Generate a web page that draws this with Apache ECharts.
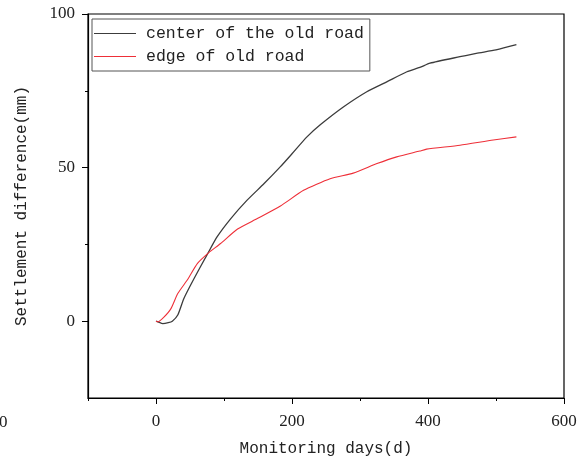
<!DOCTYPE html>
<html lang="en">
<head>
    <meta charset="UTF-8">
    <title>Settlement difference</title>
    <script src="https://cdn.jsdelivr.net/npm/echarts@6/dist/echarts.min.js"></script>
    <style>
        html, body { margin: 0; padding: 0; background: #fff; }
        #main { width: 582px; height: 458px; }
    </style>
</head>
<body>
    <div id="main"></div>
    <script>
        // data
        var centerDays = [0, 3, 10, 18, 24, 32, 41, 56, 76, 90, 110, 134, 159, 183, 200, 222, 242, 276, 310, 340, 369, 388, 403, 447, 471, 500, 530];
        var centerVals = [0, -0.2, -0.8, -0.5, 0, 2, 7.4, 13.9, 22, 27.5, 33.4, 39.4, 44.8, 50.3, 54.5, 60.0, 64.0, 69.8, 74.7, 78, 81.2, 82.6, 84, 86.1, 87.2, 88.3, 90];
        var edgeDays = [0, 3, 12, 22, 32, 46, 61, 76, 95, 120, 149, 183, 217, 256, 290, 325, 354, 388, 398, 447, 496, 530];
        var edgeVals = [0, -0.2, 1.4, 4.1, 9, 13.4, 18.8, 22, 25.3, 30, 33.4, 37.5, 42.6, 46.4, 48.2, 51.3, 53.5, 55.4, 56, 57.3, 59, 60];
        var xMajor = [0, 200, 400, 600];
        var xMinor = [-100, 100, 300, 500];
        var yMajor = [0, 50, 100];
        var yMinor = [25, 75];

        function pairs(xs, ys) {
            return xs.map(function (x, i) { return [x, ys[i]]; });
        }

        var monoFont = '"Liberation Mono", "DejaVu Sans Mono", monospace';
        var serifFont = '"Liberation Serif", "DejaVu Serif", serif';

        var myChart = echarts.init(document.getElementById('main'));

        var option = {
            animation: false,
            grid: {
                left: 88, right: 18, top: 14, bottom: 60,
                outerBoundsMode: 'none',
                show: true, borderColor: '#000', borderWidth: 1.2
            },
            legend: {
                orient: 'vertical',
                left: 92, top: 19,
                padding: [6, 6, 6, 2],
                itemGap: 6,
                itemWidth: 42,
                itemHeight: 1.2,
                icon: 'rect',
                borderColor: '#555',
                borderWidth: 1,
                textStyle: { fontFamily: monoFont, fontSize: 16.5, color: '#222', lineHeight: 16, padding: [0, 0, 0, 5] },
                data: ['center of the old road', 'edge of old road']
            },
            xAxis: [
                {
                    type: 'value', min: -100, max: 600, position: 'bottom',
                    name: 'Monitoring days(d)', nameLocation: 'middle', nameGap: 43,
                    nameTextStyle: { fontFamily: monoFont, fontSize: 16, color: '#222' },
                    splitLine: { show: false },
                    axisLine: { onZero: false, lineStyle: { color: '#000', width: 1.2 } },
                    axisTick: { inside: false, length: 6, customValues: xMajor, lineStyle: { color: '#000' } },
                    axisLabel: { customValues: xMajor, margin: 15, fontFamily: serifFont, fontSize: 17, color: '#222' }
                },
                {
                    type: 'value', min: -100, max: 600, position: 'bottom',
                    splitLine: { show: false },
                    axisLine: { show: false, onZero: false },
                    axisTick: { inside: false, length: 3, customValues: xMinor, lineStyle: { color: '#000' } },
                    axisLabel: { show: false }
                }
            ],
            yAxis: [
                {
                    type: 'value', min: -25, max: 100, position: 'left',
                    name: 'Settlement difference(mm)', nameLocation: 'middle', nameGap: 58, nameRotate: 90,
                    nameTextStyle: { fontFamily: monoFont, fontSize: 16, color: '#222' },
                    splitLine: { show: false },
                    axisLine: { onZero: false, lineStyle: { color: '#000', width: 1.2 } },
                    axisTick: { inside: false, length: 6, customValues: yMajor, lineStyle: { color: '#000' } },
                    axisLabel: { customValues: yMajor, margin: 13, fontFamily: serifFont, fontSize: 17, color: '#222' }
                },
                {
                    type: 'value', min: -25, max: 100, position: 'left',
                    splitLine: { show: false },
                    axisLine: { show: false, onZero: false },
                    axisTick: { inside: false, length: 3, customValues: yMinor, lineStyle: { color: '#000' } },
                    axisLabel: { show: false }
                }
            ],
            graphic: [
                {
                    type: 'text', left: -1, top: 414,
                    style: { text: '0', fontFamily: serifFont, fontSize: 17, fill: '#222' }
                }
            ],
            series: [
                {
                    name: 'center of the old road',
                    type: 'line',
                    showSymbol: false,
                    smooth: 0.2,
                    color: '#3c3c3c',
                    lineStyle: { width: 1.3 },
                    data: pairs(centerDays, centerVals)
                },
                {
                    name: 'edge of old road',
                    type: 'line',
                    showSymbol: false,
                    smooth: 0.2,
                    color: '#ee2f38',
                    lineStyle: { width: 1.1 },
                    data: pairs(edgeDays, edgeVals)
                }
            ]
        };

        myChart.setOption(option);
    </script>
</body>
</html>
